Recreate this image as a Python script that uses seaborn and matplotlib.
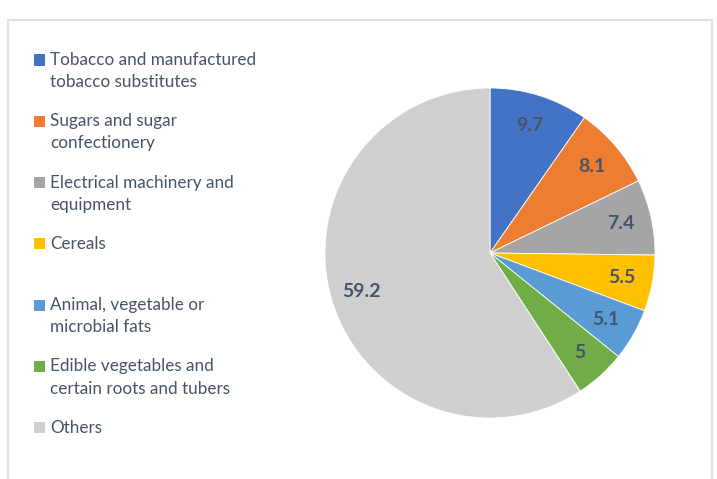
import matplotlib
matplotlib.use("Agg")
import matplotlib.pyplot as plt
import seaborn as sns
from matplotlib.patches import Rectangle
from matplotlib.lines import Line2D

# Data
categories = [
    "Tobacco and manufactured\ntobacco substitutes",
    "Sugars and sugar\nconfectionery",
    "Electrical machinery and\nequipment",
    "Cereals",
    "Animal, vegetable or\nmicrobial fats",
    "Edible vegetables and\ncertain roots and tubers",
    "Others",
]
shares = [9.7, 8.1, 7.4, 5.5, 5.1, 5, 59.2]
colors = ["#4472C4", "#ED7D31", "#A5A5A5", "#FFC000", "#5B9BD5", "#70AD47", "#D0CECE"]

sns.set_style("white")
plt.rcParams["font.family"] = ["Lato", "DejaVu Sans"]
text_color = "#44546A"

W, H = 717, 479
fig = plt.figure(figsize=(W / 100, H / 100), dpi=100)

# chart frame (light border, open at the bottom)
frame_color = "#DDE2E8"
fig.add_artist(Line2D([8 / W, 8 / W], [0, 1 - 20 / H], transform=fig.transFigure, color=frame_color, lw=1.5))
fig.add_artist(Line2D([712 / W, 712 / W], [0, 1 - 20 / H], transform=fig.transFigure, color=frame_color, lw=1.5))
fig.add_artist(Line2D([8 / W, 712 / W], [1 - 20 / H, 1 - 20 / H], transform=fig.transFigure, color=frame_color, lw=1.5))

# pie axes: center (490, 253), radius 165 px
cx, cy, r = 490, 253, 165
ax = fig.add_axes([(cx - r) / W, (H - cy - r) / H, 2 * r / W, 2 * r / H])
wedges, texts = ax.pie(
    shares,
    colors=colors,
    startangle=90,
    counterclock=False,
    radius=1,
    labels=[f"{v:g}" for v in shares],
    labeldistance=0.81,
    wedgeprops=dict(edgecolor="white", linewidth=0.6),
    textprops=dict(color=text_color, fontsize=14, fontweight="bold"),
)
for t in texts:
    t.set_horizontalalignment("center")
    t.set_verticalalignment("center")
ax.set_xlim(-1, 1)
ax.set_ylim(-1, 1)
ax.set_aspect("equal")
ax.axis("off")

# legend on the left, one entry every 61 px
y0 = 60
for i, (lab, col) in enumerate(zip(categories, colors)):
    y = y0 + i * 61.3
    fig.add_artist(Rectangle((34 / W, 1 - (y + 5.5) / H), 11 / W, 11 / H,
                             transform=fig.transFigure, color=col, lw=0))
    lines = lab.split("\n")
    for j, line in enumerate(lines):
        fig.text(50 / W, 1 - (y + j * 22) / H, line, fontsize=12.3, color=text_color,
                 ha="left", va="center")

fig.savefig("out.png", dpi=100)
